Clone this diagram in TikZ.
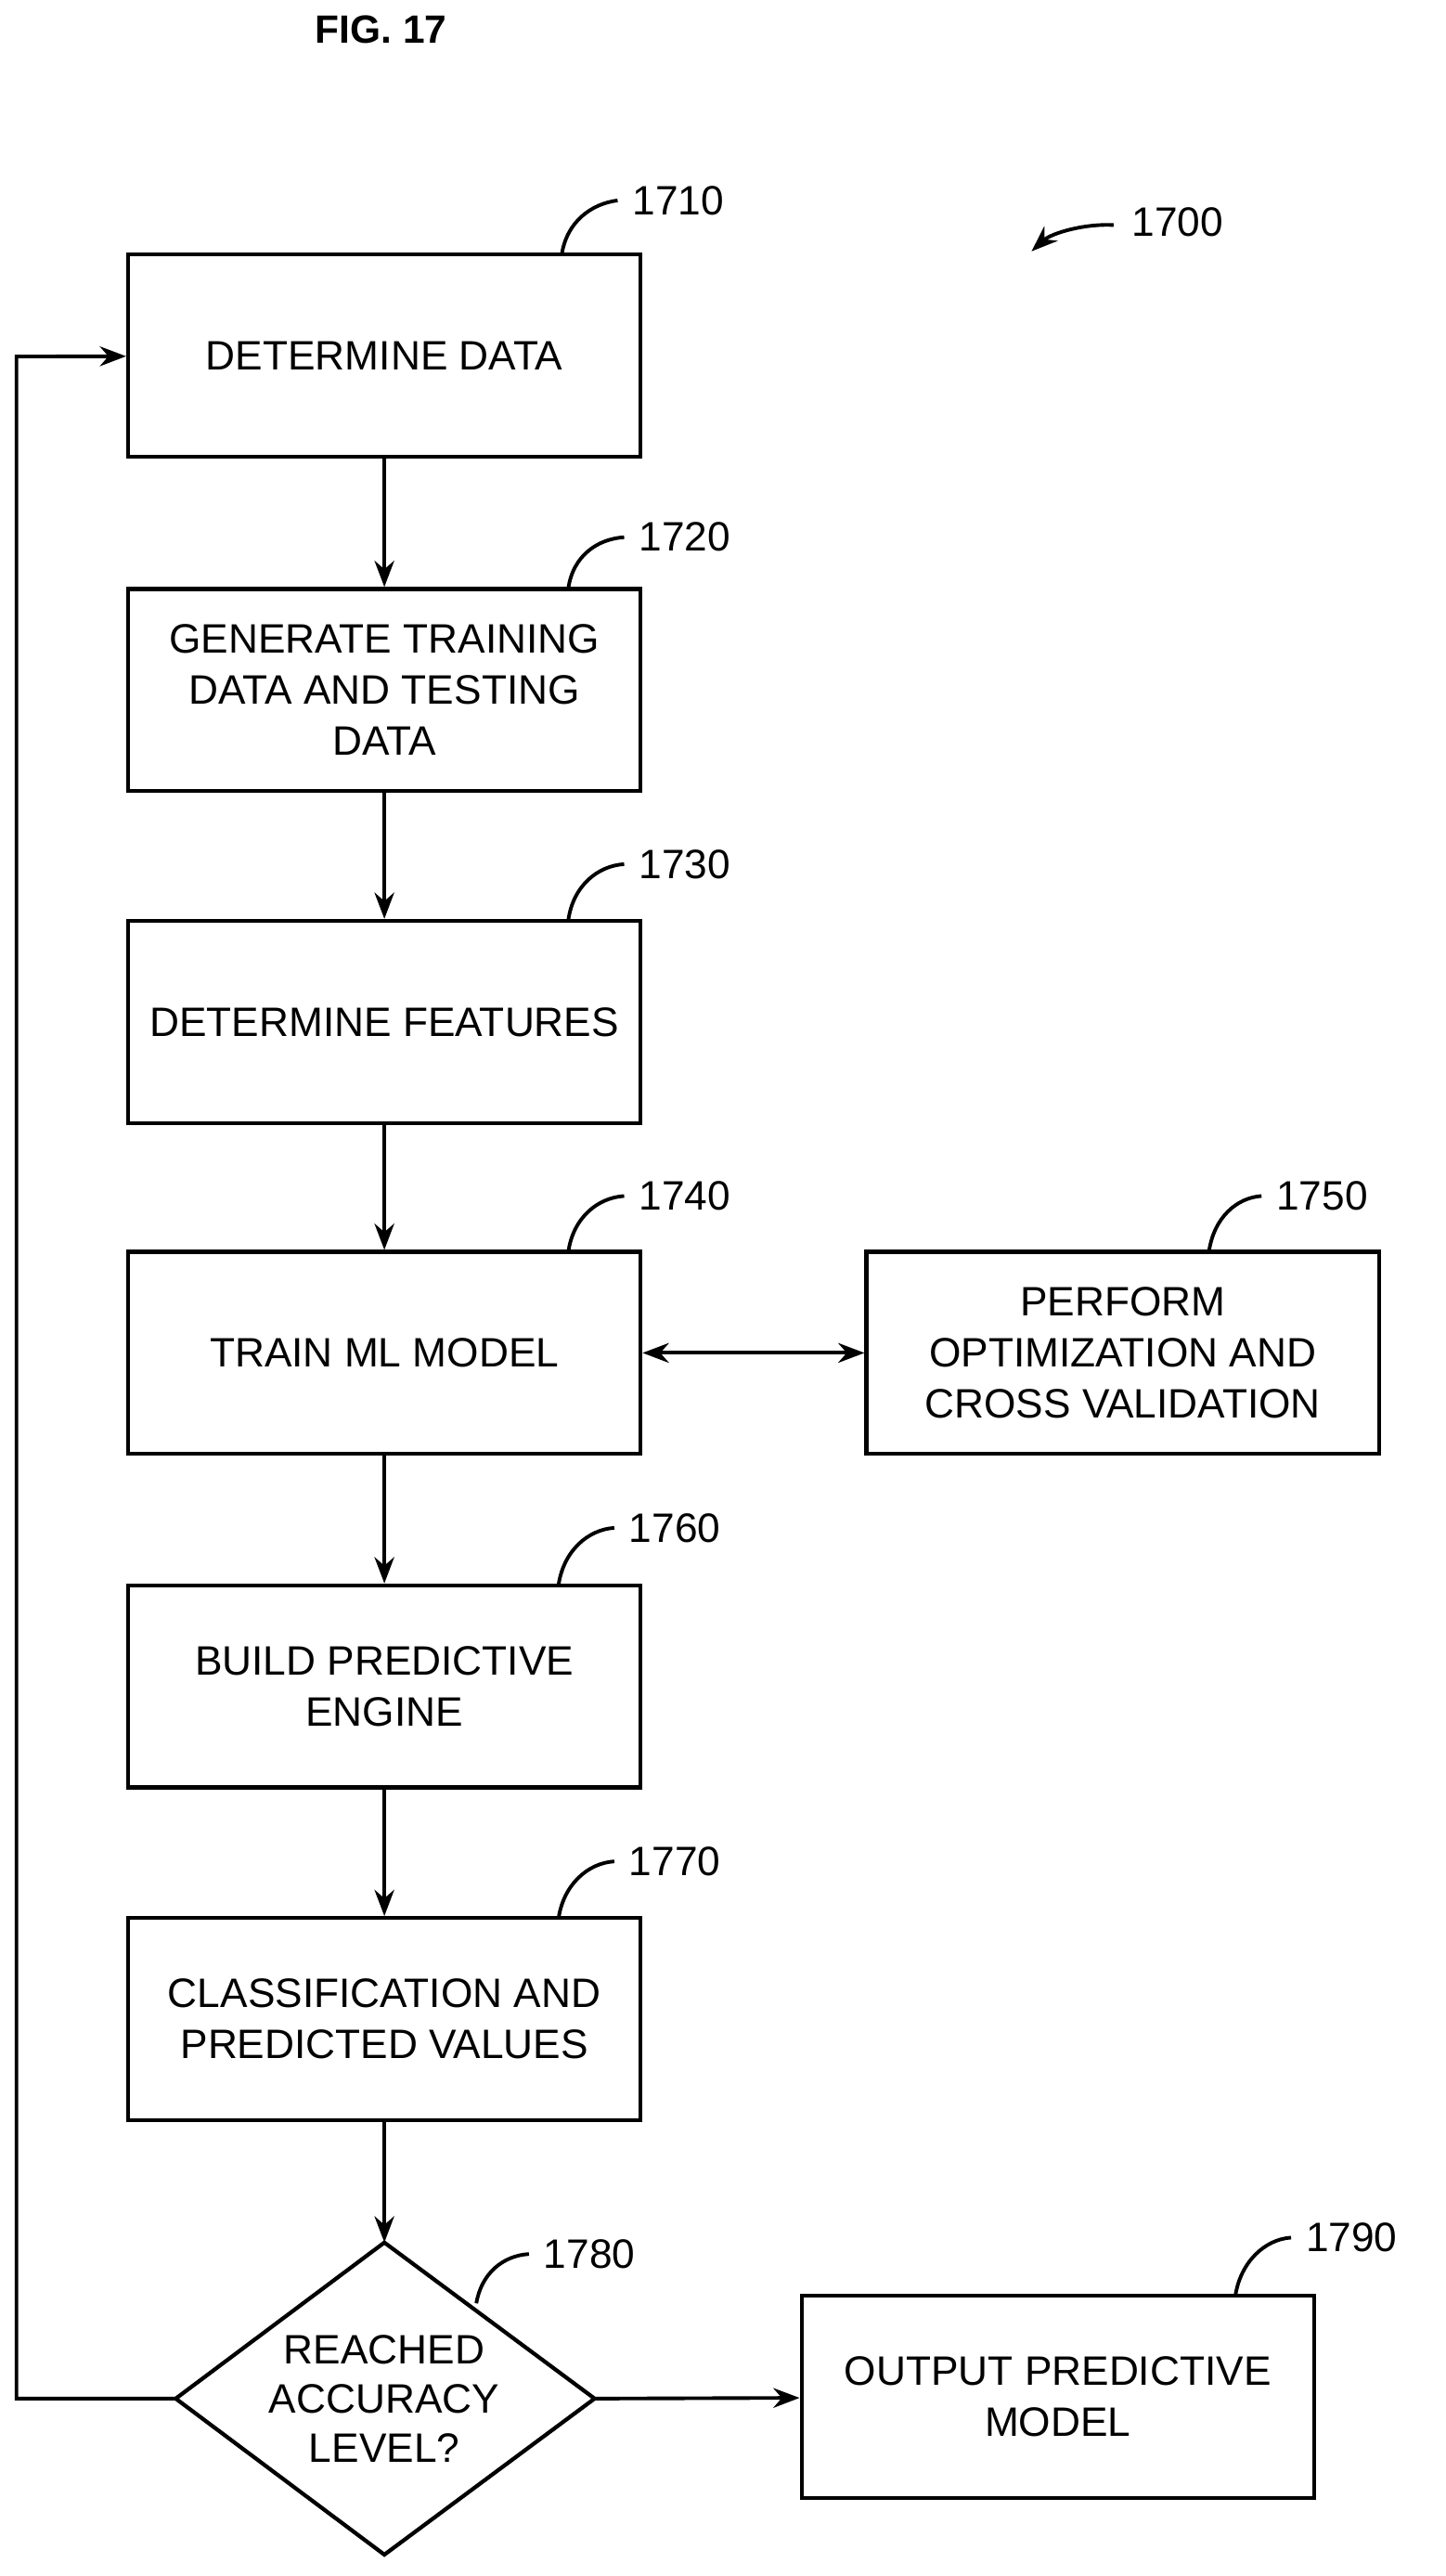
\documentclass[tikz,border=0pt]{standalone}
\usepackage{fontspec}
\setmainfont{Liberation Sans}
\usetikzlibrary{shapes.geometric,arrows.meta}
\begin{document}
\begin{tikzpicture}[x=0.5pt,y=-0.5pt,
  box/.style={draw,line width=1.2pt,minimum width=156pt,minimum height=61.5pt,align=center,font=\fontsize{12.5}{15.5}\selectfont,inner sep=2pt},
  lab/.style={font=\fontsize{12.5}{15}\selectfont},
  arr/.style={line width=1.1pt,-{Stealth[length=8pt,width=6pt]}},
  hook/.style={line width=1.1pt}]
\path[use as bounding box] (0,0) rectangle (880,1568);
\node[font=\bfseries\fontsize{12}{14}\selectfont] (fig) at (232,18) {FIG. 17};
\node[box] (b1710) at (234,216.5) {DETERMINE DATA};
\node[box] (b1720) at (234,420) {GENERATE TRAINING\\DATA AND TESTING\\DATA};
\node[box] (b1730) at (234,622) {DETERMINE FEATURES};
\node[box] (b1740) at (234,823.5) {TRAIN ML MODEL};
\node[box] (b1750) at (683.5,823.5) {PERFORM\\OPTIMIZATION AND\\CROSS VALIDATION};
\node[box] (b1760) at (234,1026.5) {BUILD PREDICTIVE\\ENGINE};
\node[box] (b1770) at (234,1229) {CLASSIFICATION AND\\PREDICTED VALUES};
\node[box] (b1790) at (644,1459) {OUTPUT PREDICTIVE\\MODEL};
\coordinate (dT) at (234,1365); \coordinate (dB) at (234,1555);
\coordinate (dL) at (107,1460); \coordinate (dR) at (362,1460);
\draw[line width=1.2pt] (dT) -- (dR) -- (dB) -- (dL) -- cycle;
\node[lab,align=center] (d1780) at (234,1460) {REACHED\\ACCURACY\\LEVEL?};
\draw[arr] (b1710) -- (b1720);
\draw[arr] (b1720) -- (b1730);
\draw[arr] (b1730) -- (b1740);
\draw[arr] (b1740) -- (b1760);
\draw[arr] (b1760) -- (b1770);
\draw[arr] (b1770) -- (dT);
\draw[arr] (dR) -- (b1790);
\draw[line width=1.1pt,{Stealth[length=8pt,width=6pt]}-{Stealth[length=8pt,width=6pt]}] (b1740) -- (b1750);
\coordinate (c1) at (10,1460); \coordinate (c2) at (10,217);
\draw[arr] (dL) -- (c1) -- (c2) -- (b1710);
% reference labels
\node[lab,anchor=west] (l1710) at (378,122) {1710};
\draw[hook] (342,155) .. controls (345,135) and (360,124) .. (376,122);
\node[lab,anchor=west] (l1720) at (382,327) {1720};
\draw[hook] (346,358) .. controls (349,338) and (364,328) .. (380,327);
\node[lab,anchor=west] (l1730) at (382,526) {1730};
\draw[hook] (346,560) .. controls (349,539) and (364,527) .. (380,526);
\node[lab,anchor=west] (l1740) at (382,728) {1740};
\draw[hook] (346,762) .. controls (349,741) and (364,729) .. (380,728);
\node[lab,anchor=west] (l1750) at (770,728) {1750};
\draw[hook] (736,762) .. controls (739,741) and (753,729) .. (768,728);
\node[lab,anchor=west] (l1760) at (376,930) {1760};
\draw[hook] (340,965) .. controls (343,944) and (358,931) .. (374,930);
\node[lab,anchor=west] (l1770) at (376,1133) {1770};
\draw[hook] (340,1168) .. controls (343,1147) and (358,1134) .. (374,1133);
\node[lab,anchor=west] (l1780) at (324,1372) {1780};
\draw[hook] (290,1402) .. controls (293,1384) and (306,1373) .. (322,1372);
\node[lab,anchor=west] (l1790) at (788,1362) {1790};
\draw[hook] (752,1398) .. controls (755,1377) and (770,1363) .. (786,1362);
\node[lab,anchor=west] (l1700) at (682,135) {1700};
\coordinate (a1700) at (628,153);
\draw[line width=1.1pt,-{Stealth[length=8pt,width=6pt]}] (678,137) .. controls (660,136) and (640,142) .. (a1700);
\end{tikzpicture}
\end{document}
